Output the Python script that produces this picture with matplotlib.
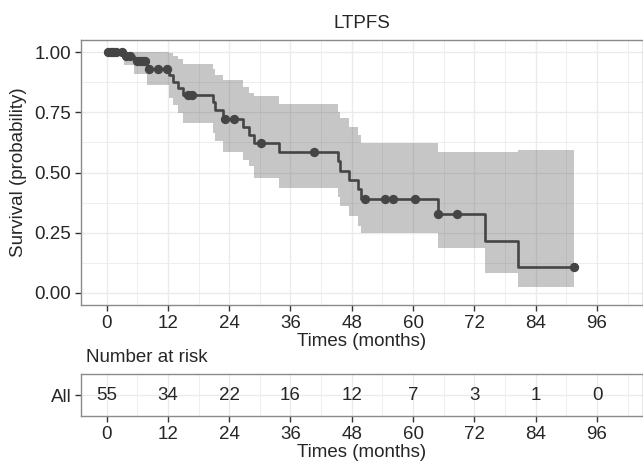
"""
LTPFS Kaplan-Meier curve with number-at-risk table
"""
import numpy as np
import matplotlib.pyplot as plt

plt.rcParams['font.family'] = ['Liberation Sans', 'DejaVu Sans']

# Kaplan-Meier steps (months) and survival after each step
step_times = [0, 3.4, 5.3, 8.0, 12.3, 13.1, 14.0, 14.9, 20.8, 21.3, 22.7, 26.8,
              27.8, 28.8, 33.8, 45.4, 45.7, 47.5, 49.3, 49.8, 64.8, 74.1, 80.5]
surv = [1.0, 0.982, 0.963, 0.931, 0.904, 0.876, 0.849, 0.822, 0.793, 0.758, 0.724,
        0.690, 0.655, 0.621, 0.585, 0.547, 0.508, 0.469, 0.430, 0.391, 0.326,
        0.217, 0.109]
lower = [1.0, 0.945, 0.91, 0.865, 0.81, 0.78, 0.745, 0.704, 0.663, 0.63, 0.587,
         0.552, 0.525, 0.477, 0.435, 0.40, 0.36, 0.318, 0.28, 0.249, 0.185,
         0.082, 0.024]
upper = [1.0, 1.0, 1.0, 1.0, 0.995, 0.985, 0.97, 0.952, 0.93, 0.905, 0.883,
         0.855, 0.83, 0.817, 0.786, 0.75, 0.725, 0.69, 0.655, 0.621, 0.587,
         0.587, 0.594]
end_time = 91.5

# censored observations (months)
cens_times = [0.3, 0.8, 1.3, 1.8, 3.0, 3.8, 4.5, 5.9, 6.5, 7.1, 7.6, 8.3, 10.0,
              11.8, 15.9, 16.8, 23.2, 24.9, 30.3, 40.7, 50.5, 54.5, 56.0, 60.4,
              64.9, 68.5, 91.5]

# number at risk
risk_times = [0, 12, 24, 36, 48, 60, 72, 84, 96]
risk_n = [55, 34, 22, 16, 12, 7, 3, 1, 0]

line_col = '#454545'
text_col = '#262626'
grid_col = '#ebebeb'
border_col = '#8a8a8a'
fs = 13.5

W, H = 643, 463
fig = plt.figure(figsize=(W / 100, H / 100), dpi=100)
ax = fig.add_axes([81 / W, 1 - 305 / H, 1 - 81 / W, (305 - 40) / H])
axr = fig.add_axes([81 / W, 1 - 416 / H, 1 - 81 / W, (416 - 374) / H])

# extend the step arrays to the last follow-up time
t = step_times + [end_time]
s = surv + [surv[-1]]
lo = lower + [lower[-1]]
hi = upper + [upper[-1]]

ax.fill_between(t, lo, hi, step='post', color=line_col, alpha=0.3, lw=0, zorder=2)
ax.step(t, s, where='post', color=line_col, lw=1.9, zorder=3)
idx = np.searchsorted(step_times, cens_times, side='right') - 1
cens_surv = np.array(surv)[idx]
ax.plot(cens_times, cens_surv, 'o', color=line_col, ms=5.7, zorder=4)

xticks = list(range(0, 97, 12))
for a in (ax, axr):
    a.set_xlim(-5, 105)
    a.set_xticks(xticks)
    a.set_xticks(list(range(6, 106, 12)), minor=True)
    a.set_facecolor('white')
    a.grid(True, which='major', color=grid_col, lw=1.0, zorder=0)
    a.grid(True, which='minor', color=grid_col, lw=0.6, zorder=0)
    a.set_axisbelow(True)
    for sp in a.spines.values():
        sp.set_color(border_col)
        sp.set_linewidth(1.0)
    a.tick_params(axis='both', which='major', length=4, width=1.0,
                  color='#333333', labelsize=fs, labelcolor=text_col, pad=3)
    a.tick_params(axis='both', which='minor', length=0)
    a.set_xlabel('Times (months)', fontsize=fs, color=text_col, labelpad=1)

ax.set_ylim(-0.05, 1.05)
ax.set_yticks([0, 0.25, 0.5, 0.75, 1.0])
ax.set_yticklabels(['0.00', '0.25', '0.50', '0.75', '1.00'])
ax.set_yticks([0.125, 0.375, 0.625, 0.875], minor=True)
ax.set_title('LTPFS', fontsize=fs, color=text_col, pad=9)
fig.text(19 / W, 1 - 172 / H, 'Survival (probability)', rotation=90,
         ha='center', va='center', fontsize=fs, color=text_col)

# risk table
axr.set_ylim(0, 1)
axr.set_yticks([0.5])
axr.set_yticklabels(['All'])
for x, n in zip(risk_times, risk_n):
    axr.text(x, 0.5, str(n), ha='center', va='center', fontsize=fs, color=text_col)
fig.text(86 / W, 1 - 358 / H, 'Number at risk', ha='left', va='center',
         fontsize=fs, color=text_col)

fig.savefig('out.png', dpi=100, facecolor='white')
